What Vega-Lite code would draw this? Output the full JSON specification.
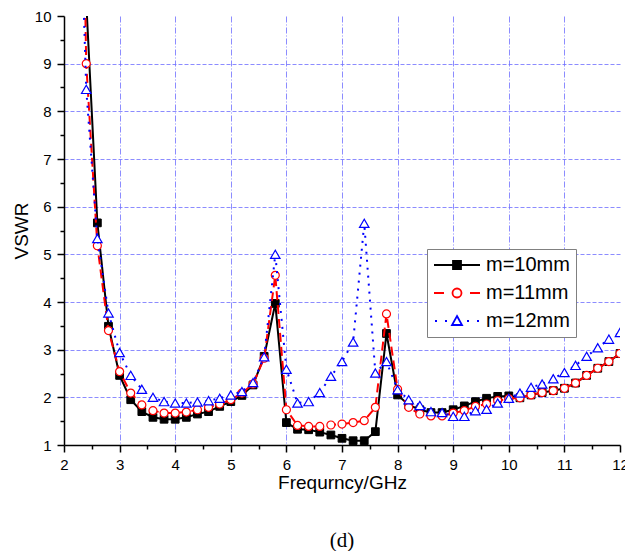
{
  "$schema": "https://vega.github.io/schema/vega-lite/v6.json",
  "width": 556,
  "height": 429,
  "autosize": {"type": "none"},
  "padding": {"left": 64, "top": 16, "right": 5, "bottom": 106},
  "background": "white",
  "title": {"text": "(d)", "orient": "bottom", "font": "Liberation Serif", "fontSize": 21, "fontWeight": "normal", "color": "black", "offset": 38, "anchor": "middle"},
  "config": {"view": {"stroke": null}},
  "datasets": {
    "vswr": [
      {"f": 2.2, "m": "m=10mm", "v": 20}, {"f": 2.4, "m": "m=10mm", "v": 10.3}, {"f": 2.6, "m": "m=10mm", "v": 5.66}, {"f": 2.8, "m": "m=10mm", "v": 3.49},
      {"f": 3.0, "m": "m=10mm", "v": 2.46}, {"f": 3.2, "m": "m=10mm", "v": 1.95}, {"f": 3.4, "m": "m=10mm", "v": 1.70}, {"f": 3.6, "m": "m=10mm", "v": 1.58},
      {"f": 3.8, "m": "m=10mm", "v": 1.54}, {"f": 4.0, "m": "m=10mm", "v": 1.54}, {"f": 4.2, "m": "m=10mm", "v": 1.58}, {"f": 4.4, "m": "m=10mm", "v": 1.65},
      {"f": 4.6, "m": "m=10mm", "v": 1.70}, {"f": 4.8, "m": "m=10mm", "v": 1.81}, {"f": 5.0, "m": "m=10mm", "v": 1.91}, {"f": 5.2, "m": "m=10mm", "v": 2.04},
      {"f": 5.4, "m": "m=10mm", "v": 2.26}, {"f": 5.6, "m": "m=10mm", "v": 2.86}, {"f": 5.8, "m": "m=10mm", "v": 3.97}, {"f": 6.0, "m": "m=10mm", "v": 1.47},
      {"f": 6.2, "m": "m=10mm", "v": 1.33}, {"f": 6.4, "m": "m=10mm", "v": 1.32}, {"f": 6.6, "m": "m=10mm", "v": 1.27}, {"f": 6.8, "m": "m=10mm", "v": 1.21},
      {"f": 7.0, "m": "m=10mm", "v": 1.14}, {"f": 7.2, "m": "m=10mm", "v": 1.09}, {"f": 7.4, "m": "m=10mm", "v": 1.09}, {"f": 7.6, "m": "m=10mm", "v": 1.28},
      {"f": 7.8, "m": "m=10mm", "v": 3.34}, {"f": 8.0, "m": "m=10mm", "v": 2.05}, {"f": 8.2, "m": "m=10mm", "v": 1.84}, {"f": 8.4, "m": "m=10mm", "v": 1.74},
      {"f": 8.6, "m": "m=10mm", "v": 1.68}, {"f": 8.8, "m": "m=10mm", "v": 1.68}, {"f": 9.0, "m": "m=10mm", "v": 1.74}, {"f": 9.2, "m": "m=10mm", "v": 1.82},
      {"f": 9.4, "m": "m=10mm", "v": 1.91}, {"f": 9.6, "m": "m=10mm", "v": 1.98}, {"f": 9.8, "m": "m=10mm", "v": 2.02}, {"f": 10.0, "m": "m=10mm", "v": 2.03},
      {"f": 10.2, "m": "m=10mm", "v": 1.99}, {"f": 10.4, "m": "m=10mm", "v": 2.05}, {"f": 10.6, "m": "m=10mm", "v": 2.10}, {"f": 10.8, "m": "m=10mm", "v": 2.14},
      {"f": 11.0, "m": "m=10mm", "v": 2.19}, {"f": 11.2, "m": "m=10mm", "v": 2.30}, {"f": 11.4, "m": "m=10mm", "v": 2.46}, {"f": 11.6, "m": "m=10mm", "v": 2.61},
      {"f": 11.8, "m": "m=10mm", "v": 2.75}, {"f": 12.0, "m": "m=10mm", "v": 2.92},

      {"f": 2.2, "m": "m=11mm", "v": 22}, {"f": 2.4, "m": "m=11mm", "v": 9.0}, {"f": 2.6, "m": "m=11mm", "v": 5.18}, {"f": 2.8, "m": "m=11mm", "v": 3.40},
      {"f": 3.0, "m": "m=11mm", "v": 2.54}, {"f": 3.2, "m": "m=11mm", "v": 2.09}, {"f": 3.4, "m": "m=11mm", "v": 1.84}, {"f": 3.6, "m": "m=11mm", "v": 1.72},
      {"f": 3.8, "m": "m=11mm", "v": 1.67}, {"f": 4.0, "m": "m=11mm", "v": 1.67}, {"f": 4.2, "m": "m=11mm", "v": 1.69}, {"f": 4.4, "m": "m=11mm", "v": 1.74},
      {"f": 4.6, "m": "m=11mm", "v": 1.79}, {"f": 4.8, "m": "m=11mm", "v": 1.86}, {"f": 5.0, "m": "m=11mm", "v": 1.95}, {"f": 5.2, "m": "m=11mm", "v": 2.09},
      {"f": 5.4, "m": "m=11mm", "v": 2.28}, {"f": 5.6, "m": "m=11mm", "v": 2.82}, {"f": 5.8, "m": "m=11mm", "v": 4.56}, {"f": 6.0, "m": "m=11mm", "v": 1.74},
      {"f": 6.2, "m": "m=11mm", "v": 1.41}, {"f": 6.4, "m": "m=11mm", "v": 1.39}, {"f": 6.6, "m": "m=11mm", "v": 1.39}, {"f": 6.8, "m": "m=11mm", "v": 1.42},
      {"f": 7.0, "m": "m=11mm", "v": 1.44}, {"f": 7.2, "m": "m=11mm", "v": 1.47}, {"f": 7.4, "m": "m=11mm", "v": 1.51}, {"f": 7.6, "m": "m=11mm", "v": 1.79},
      {"f": 7.8, "m": "m=11mm", "v": 3.75}, {"f": 8.0, "m": "m=11mm", "v": 2.17}, {"f": 8.2, "m": "m=11mm", "v": 1.79}, {"f": 8.4, "m": "m=11mm", "v": 1.65},
      {"f": 8.6, "m": "m=11mm", "v": 1.61}, {"f": 8.8, "m": "m=11mm", "v": 1.61}, {"f": 9.0, "m": "m=11mm", "v": 1.67}, {"f": 9.2, "m": "m=11mm", "v": 1.72},
      {"f": 9.4, "m": "m=11mm", "v": 1.81}, {"f": 9.6, "m": "m=11mm", "v": 1.86}, {"f": 9.8, "m": "m=11mm", "v": 1.93}, {"f": 10.0, "m": "m=11mm", "v": 1.97},
      {"f": 10.2, "m": "m=11mm", "v": 1.99}, {"f": 10.4, "m": "m=11mm", "v": 2.05}, {"f": 10.6, "m": "m=11mm", "v": 2.10}, {"f": 10.8, "m": "m=11mm", "v": 2.14},
      {"f": 11.0, "m": "m=11mm", "v": 2.19}, {"f": 11.2, "m": "m=11mm", "v": 2.30}, {"f": 11.4, "m": "m=11mm", "v": 2.46}, {"f": 11.6, "m": "m=11mm", "v": 2.61},
      {"f": 11.8, "m": "m=11mm", "v": 2.75}, {"f": 12.0, "m": "m=11mm", "v": 2.92},

      {"f": 2.2, "m": "m=12mm", "v": 16}, {"f": 2.4, "m": "m=12mm", "v": 8.46}, {"f": 2.6, "m": "m=12mm", "v": 5.33}, {"f": 2.8, "m": "m=12mm", "v": 3.77},
      {"f": 3.0, "m": "m=12mm", "v": 2.94}, {"f": 3.2, "m": "m=12mm", "v": 2.46}, {"f": 3.4, "m": "m=12mm", "v": 2.17}, {"f": 3.6, "m": "m=12mm", "v": 2.00},
      {"f": 3.8, "m": "m=12mm", "v": 1.91}, {"f": 4.0, "m": "m=12mm", "v": 1.88}, {"f": 4.2, "m": "m=12mm", "v": 1.88}, {"f": 4.4, "m": "m=12mm", "v": 1.90},
      {"f": 4.6, "m": "m=12mm", "v": 1.93}, {"f": 4.8, "m": "m=12mm", "v": 1.98}, {"f": 5.0, "m": "m=12mm", "v": 2.05}, {"f": 5.2, "m": "m=12mm", "v": 2.12},
      {"f": 5.4, "m": "m=12mm", "v": 2.31}, {"f": 5.6, "m": "m=12mm", "v": 2.85}, {"f": 5.8, "m": "m=12mm", "v": 5.00}, {"f": 6.0, "m": "m=12mm", "v": 2.59},
      {"f": 6.2, "m": "m=12mm", "v": 1.88}, {"f": 6.4, "m": "m=12mm", "v": 1.91}, {"f": 6.6, "m": "m=12mm", "v": 2.10}, {"f": 6.8, "m": "m=12mm", "v": 2.44},
      {"f": 7.0, "m": "m=12mm", "v": 2.75}, {"f": 7.2, "m": "m=12mm", "v": 3.16}, {"f": 7.4, "m": "m=12mm", "v": 5.65}, {"f": 7.6, "m": "m=12mm", "v": 2.51},
      {"f": 7.8, "m": "m=12mm", "v": 2.75}, {"f": 8.0, "m": "m=12mm", "v": 2.16}, {"f": 8.2, "m": "m=12mm", "v": 1.95}, {"f": 8.4, "m": "m=12mm", "v": 1.83},
      {"f": 8.6, "m": "m=12mm", "v": 1.70}, {"f": 8.8, "m": "m=12mm", "v": 1.68}, {"f": 9.0, "m": "m=12mm", "v": 1.60}, {"f": 9.2, "m": "m=12mm", "v": 1.60},
      {"f": 9.4, "m": "m=12mm", "v": 1.72}, {"f": 9.6, "m": "m=12mm", "v": 1.75}, {"f": 9.8, "m": "m=12mm", "v": 1.88}, {"f": 10.0, "m": "m=12mm", "v": 1.98},
      {"f": 10.2, "m": "m=12mm", "v": 2.09}, {"f": 10.4, "m": "m=12mm", "v": 2.21}, {"f": 10.6, "m": "m=12mm", "v": 2.28}, {"f": 10.8, "m": "m=12mm", "v": 2.39},
      {"f": 11.0, "m": "m=12mm", "v": 2.52}, {"f": 11.2, "m": "m=12mm", "v": 2.67}, {"f": 11.4, "m": "m=12mm", "v": 2.86}, {"f": 11.6, "m": "m=12mm", "v": 3.04},
      {"f": 11.8, "m": "m=12mm", "v": 3.22}, {"f": 12.0, "m": "m=12mm", "v": 3.36}
    ]
  },
  "data": {"name": "vswr"},
  "encoding": {
    "x": {
      "field": "f", "type": "quantitative",
      "scale": {"domain": [2, 12], "nice": false, "zero": false},
      "axis": {
        "title": "Frequrncy/GHz",
        "values": [2, 2.5, 3, 3.5, 4, 4.5, 5, 5.5, 6, 6.5, 7, 7.5, 8, 8.5, 9, 9.5, 10, 10.5, 11, 11.5, 12],
        "labelExpr": "datum.value % 1 == 0 ? format(datum.value, 'd') : ''",
        "labelOverlap": false, "labelFlush": false,
        "tickSize": {"condition": {"test": "datum.value % 1 != 0", "value": 4}, "value": 7},
        "tickColor": "black", "tickWidth": 1.5,
        "domainColor": "black", "domainWidth": 1.5,
        "grid": true,
        "gridColor": "#6f6fff", "gridDash": [6, 2, 1, 2], "gridWidth": 1,
        "gridOpacity": {"condition": {"test": "datum.value % 1 != 0 || datum.value == 2 || datum.value == 12", "value": 0}, "value": 0.8},
        "labelFont": "Liberation Sans", "labelFontSize": 15, "labelColor": "black", "labelPadding": 5,
        "titleFont": "Liberation Sans", "titleFontSize": 19, "titleFontWeight": "normal", "titleColor": "black", "titlePadding": 1
      }
    },
    "y": {
      "field": "v", "type": "quantitative",
      "scale": {"domain": [1, 10], "nice": false, "zero": false},
      "axis": {
        "title": "VSWR",
        "values": [1, 1.5, 2, 2.5, 3, 3.5, 4, 4.5, 5, 5.5, 6, 6.5, 7, 7.5, 8, 8.5, 9, 9.5, 10],
        "labelExpr": "datum.value % 1 == 0 ? format(datum.value, 'd') : ''",
        "labelOverlap": false, "labelFlush": false,
        "tickSize": {"condition": {"test": "datum.value % 1 != 0", "value": 4}, "value": 7},
        "tickColor": "black", "tickWidth": 1.5,
        "domainColor": "black", "domainWidth": 1.5,
        "grid": true,
        "gridColor": "#6f6fff", "gridDash": [4, 2], "gridWidth": 1,
        "gridOpacity": {"condition": {"test": "datum.value % 1 != 0 || datum.value == 1 || datum.value == 10", "value": 0}, "value": 0.8},
        "labelFont": "Liberation Sans", "labelFontSize": 15, "labelColor": "black", "labelPadding": 6,
        "titleFont": "Liberation Sans", "titleFontSize": 19, "titleFontWeight": "normal", "titleColor": "black", "titlePadding": 3
      }
    }
  },
  "layer": [
    {
      "transform": [{"filter": {"field": "m", "equal": "m=10mm"}}],
      "mark": {"type": "line", "clip": true, "strokeWidth": 2},
      "encoding": {
        "color": {
          "field": "m", "type": "nominal",
          "scale": {"domain": ["m=10mm", "m=11mm", "m=12mm"], "range": ["#000000", "#ff0000", "#0000ff"]},
          "legend": {
            "title": null, "orient": "none", "legendX": 363, "legendY": 233,
            "padding": 6, "strokeColor": "#808080", "fillColor": "white",
            "labelFont": "Liberation Sans", "labelFontSize": 20, "labelColor": "black",
            "symbolSize": 100, "symbolStrokeWidth": 1.8, "labelOffset": 33, "rowPadding": 8,
            "encode": {
              "symbols": {
                "update": {
                  "shape": {"signal": "datum.value === 'm=10mm' ? 'M-1.8,0H7.4M2,-0.8H3.6V0.8H2Z' : datum.value === 'm=11mm' ? 'M-1.8,0H0.2M5.4,0H7.4M3.7,0A0.9,0.9 0 1,1 1.9,0A0.9,0.9 0 1,1 3.7,0Z' : 'M-1.6,0H-1.2M0.4,0H0.8M4.8,0H5.2M6.8,0H7.2M2.8,-1L3.8,0.8H1.8Z'"},
                  "fill": {"signal": "datum.value === 'm=10mm' ? 'black' : 'white'"},
                  "strokeDash": {"value": []},
                  "opacity": {"value": 1}
                }
              }
            }
          }
        }
      }
    },
    {
      "transform": [{"filter": {"field": "m", "equal": "m=10mm"}}],
      "mark": {"type": "point", "clip": true, "shape": "square", "size": 60, "filled": true, "fill": "#000000", "stroke": "#000000", "strokeWidth": 1, "opacity": 1}
    },
    {
      "transform": [{"filter": {"field": "m", "equal": "m=11mm"}}],
      "mark": {"type": "line", "clip": true, "strokeWidth": 2, "stroke": "#ff0000", "strokeDash": [9, 5]},
      "encoding": {}
    },
    {
      "transform": [{"filter": {"field": "m", "equal": "m=11mm"}}],
      "mark": {"type": "point", "clip": true, "shape": "circle", "size": 64, "filled": true, "fill": "#ffffff", "stroke": "#ff0000", "strokeWidth": 1.2, "opacity": 1}
    },
    {
      "transform": [{"filter": {"field": "m", "equal": "m=12mm"}}],
      "mark": {"type": "line", "clip": true, "strokeWidth": 2, "stroke": "#0000ff", "strokeDash": [2, 6]},
      "encoding": {}
    },
    {
      "transform": [{"filter": {"field": "m", "equal": "m=12mm"}}],
      "mark": {"type": "point", "clip": true, "shape": "triangle-up", "size": 90, "filled": true, "fill": "#ffffff", "stroke": "#0000ff", "strokeWidth": 1.2, "opacity": 1}
    }
  ]
}
